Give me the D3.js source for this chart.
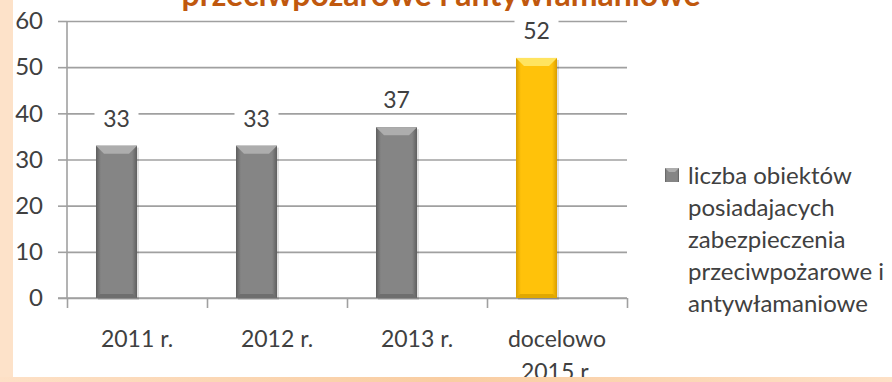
<!DOCTYPE html>
<html>
<head>
<meta charset="utf-8">
<script src="https://cdn.jsdelivr.net/npm/d3@7"></script>
<style>
  body { margin: 0; background: #fff; }
  svg { display: block; font-family: Lato, "Open Sans", sans-serif; }
</style>
</head>
<body>
<svg id="chart" width="892" height="382"></svg>
<script>
// chart data
var categories = ["2011 r.", "2012 r.", "2013 r.", "docelowo\n2015 r."];
var values = [33, 33, 37, 52];
var isTarget = [false, false, false, true];
var yTicks = [0, 10, 20, 30, 40, 50, 60];
var legendLines = ["liczba obiektów", "posiadajacych", "zabezpieczenia", "przeciwpożarowe i", "antywłamaniowe"];
var titleText = "przeciwpożarowe i antywłamaniowe";

function drawChart() {
  var svg = d3.select("#chart");
  var W = 892, H = 382;
  var plotLeft = 67, plotRight = 627, plotTop = 21, plotBottom = 298;

  // page background
  svg.append("rect").attr("width", W).attr("height", H).attr("fill", "#fff");
  var defs = svg.append("defs");
  var bg = defs.append("linearGradient").attr("id", "bottomStrip");
  bg.append("stop").attr("offset", "0%").attr("stop-color", "#fde0c6");
  bg.append("stop").attr("offset", "50%").attr("stop-color", "#f9cda2");
  bg.append("stop").attr("offset", "100%").attr("stop-color", "#fde0c6");
  svg.append("rect").attr("x", 0).attr("y", 0).attr("width", 13).attr("height", H).attr("fill", "#fde2c9");

  // bar gradients (gray + gold)
  function barGrad(id, edge, mid) {
    var g = defs.append("linearGradient").attr("id", id);
    g.append("stop").attr("offset", "0%").attr("stop-color", edge);
    g.append("stop").attr("offset", "12%").attr("stop-color", mid);
    g.append("stop").attr("offset", "88%").attr("stop-color", mid);
    g.append("stop").attr("offset", "100%").attr("stop-color", edge);
  }
  barGrad("grayBar", "#5e5e5e", "#858585");
  barGrad("goldBar", "#d99e00", "#ffc20a");

  var x = d3.scaleBand().domain(categories).range([plotLeft, plotRight]).paddingInner(0).paddingOuter(0);
  // second (empty) series slot, so bars sit left of the band centre
  var xs = d3.scaleBand().domain([0, 1]).range([0, x.bandwidth()]).paddingInner(0).paddingOuter(0.707);
  var y = d3.scaleLinear().domain([0, 60]).range([plotBottom, plotTop]);
  var boundary = d3.scaleLinear().domain([0, categories.length]).range([plotLeft, plotRight]);

  // gridlines
  svg.append("g")
    .attr("transform", "translate(" + plotLeft + ",0)")
    .call(d3.axisLeft(y).tickValues(yTicks).tickSize(-(plotRight - plotLeft)).tickFormat(""))
    .call(g => g.select(".domain").remove())
    .selectAll("line").attr("stroke", "#a0a0a0").attr("stroke-width", 1.6);

  // y axis
  var yAxis = svg.append("g")
    .attr("transform", "translate(" + plotLeft + ",0)")
    .call(d3.axisLeft(y).tickValues(yTicks).tickSize(9).tickPadding(15));
  yAxis.select(".domain").attr("stroke", "#a0a0a0").attr("stroke-width", 1.6).attr("d", "M0," + plotTop + "V" + plotBottom);
  yAxis.selectAll("line").attr("stroke", "#a0a0a0").attr("stroke-width", 1.6);
  yAxis.selectAll("text").attr("font-size", 24).attr("fill", "#404040").attr("font-family", "Lato");

  // x axis boundary ticks
  var xAxis = svg.append("g")
    .attr("transform", "translate(0," + plotBottom + ")")
    .call(d3.axisBottom(boundary).ticks(categories.length).tickSize(10).tickFormat(""));
  xAxis.select(".domain").attr("stroke", "#a0a0a0").attr("stroke-width", 1.6).attr("d", "M" + (plotLeft - 9) + ",0H" + plotRight);
  xAxis.selectAll("line").attr("stroke", "#a0a0a0").attr("stroke-width", 1.6);

  // x labels
  svg.append("g").selectAll("text")
    .data(categories)
    .enter().append("text")
    .attr("x", d => x(d) + x.bandwidth() / 2)
    .attr("y", 347)
    .attr("text-anchor", "middle")
    .attr("font-size", 23)
    .attr("fill", "#404040")
    .each(function (d) {
      var t = d3.select(this);
      d.split("\n").forEach((line, i) => {
        t.append("tspan").attr("x", x(d) + x.bandwidth() / 2).attr("dy", i ? 33 : 0).text(line);
      });
    });

  // bars
  var bw = xs.bandwidth(), bev = 8;
  var bars = svg.append("g").selectAll("g")
    .data(values)
    .enter().append("g");

  bars.append("rect")
    .attr("x", (d, i) => x(categories[i]) + xs(0) + 2)
    .attr("y", d => y(d) + 2)
    .attr("width", bw)
    .attr("height", d => plotBottom - y(d))
    .attr("fill", "rgba(0,0,0,0.12)");

  bars.append("rect")
    .attr("x", (d, i) => x(categories[i]) + xs(0))
    .attr("y", d => y(d))
    .attr("width", bw)
    .attr("height", d => plotBottom - y(d))
    .attr("fill", (d, i) => isTarget[i] ? "url(#goldBar)" : "url(#grayBar)");

  // top bevel
  bars.append("path")
    .attr("d", (d, i) => {
      var x0 = x(categories[i]) + xs(0), x1 = x0 + bw, t = y(d);
      return "M" + x0 + "," + t + "H" + x1 + "L" + (x1 - bev) + "," + (t + bev) + "H" + (x0 + bev) + "Z";
    })
    .attr("fill", (d, i) => isTarget[i] ? "#ffe460" : "#adadad");

  // bottom bevel
  bars.append("path")
    .attr("d", (d, i) => {
      var x0 = x(categories[i]) + xs(0), x1 = x0 + bw, b = plotBottom;
      return "M" + x0 + "," + b + "H" + x1 + "L" + (x1 - 4) + "," + (b - 4) + "H" + (x0 + 4) + "Z";
    })
    .attr("fill", (d, i) => isTarget[i] ? "#e0a800" : "#6e6e6e");

  // value labels with white boxes
  var labels = svg.append("g").selectAll("g")
    .data(values)
    .enter().append("g")
    .attr("transform", (d, i) => "translate(" + (x(categories[i]) + xs(0) + bw / 2) + "," + (y(d) - 27) + ")");
  labels.append("rect")
    .attr("x", -22).attr("y", -12).attr("width", 44).attr("height", 24)
    .attr("fill", "#fff");
  labels.append("text")
    .attr("text-anchor", "middle")
    .attr("dy", "0.36em")
    .attr("font-size", 23)
    .attr("fill", "#404040")
    .text(d => d);

  // legend
  var legend = svg.append("g").attr("transform", "translate(665,168)");
  legend.append("rect").attr("width", 14).attr("height", 14).attr("fill", "url(#grayBar)");
  legend.append("path").attr("d", "M0,0H14L10,4H4Z").attr("fill", "#adadad");
  legend.append("text")
    .attr("x", 23).attr("y", 16)
    .attr("font-size", 24)
    .attr("fill", "#404040")
    .selectAll("tspan")
    .data(legendLines)
    .enter().append("tspan")
    .attr("x", 23)
    .attr("dy", (d, i) => i ? 32 : 0)
    .text(d => d);

  // clipped title (only lower part visible)
  svg.append("text")
    .attr("x", 441).attr("y", 6)
    .attr("text-anchor", "middle")
    .attr("font-size", 32)
    .attr("font-weight", "bold")
    .attr("fill", "#c0580e")
    .text(titleText);

  // bottom strip
  svg.append("rect").attr("x", 0).attr("y", 377).attr("width", W).attr("height", 5).attr("fill", "url(#bottomStrip)");
}

drawChart();
</script>
</body>
</html>
